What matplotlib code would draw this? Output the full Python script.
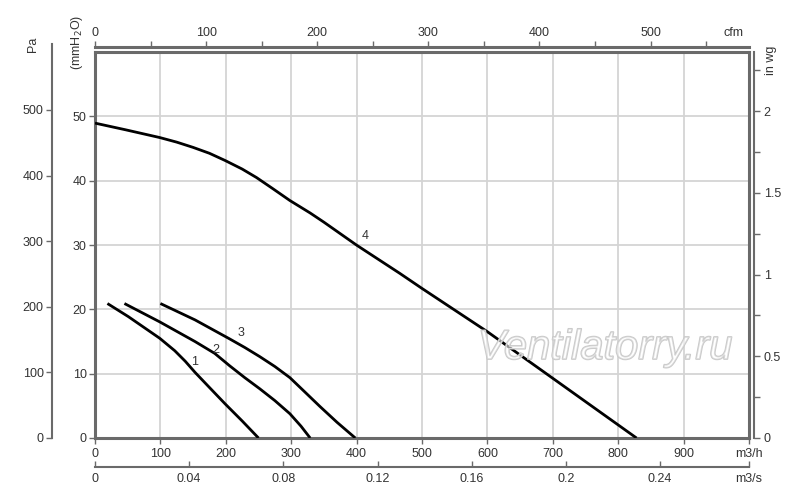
import matplotlib
matplotlib.use("Agg")
import matplotlib.pyplot as plt
import matplotlib.patheffects as pe
from matplotlib.ticker import FixedLocator, MultipleLocator

plt.rcParams['font.family'] = ['Liberation Sans', 'DejaVu Sans']

# ---- data (flow m3/h, pressure Pa) ----
c1_q = [19, 51, 99, 122, 138, 153, 175, 199, 225, 250]
c1_p = [205, 185, 152, 133, 117, 100, 77, 52, 26, 0]
c2_q = [45, 99, 153, 183, 206, 229, 252, 275, 298, 315, 329]
c2_p = [205, 177, 147, 129, 110, 92, 75, 57, 37, 18, 0]
c3_q = [100, 153, 206, 229, 252, 275, 298, 320, 344, 370, 398]
c3_p = [205, 180, 151, 138, 124, 109, 92, 71, 48, 24, 0]
c4_q = [0, 46, 99, 125, 150, 175, 199, 225, 247, 272, 298, 329, 350, 400, 466, 500, 600, 700, 828]
c4_p = [480, 470, 458, 451, 443, 434, 423, 410, 397, 380, 362, 343, 329, 294, 251, 228, 162, 91, 0]
curve_labels = ['1', '2', '3', '4']
label_pos = [(153, 116), (185, 134), (224, 160), (413, 308)]

m3h_ticks = [0, 100, 200, 300, 400, 500, 600, 700, 800, 900, 1000]
m3h_labels = ['0', '100', '200', '300', '400', '500', '600', '700', '800', '900', 'm3/h']
mmh2o_ticks = [0, 10, 20, 30, 40, 50]
pa_ticks = [0, 100, 200, 300, 400, 500]
inwg_ticks = [0, 0.5, 1, 1.5, 2]
inwg_labels = ['0', '0.5', '1', '1.5', '2']
cfm_ticks = [0, 100, 200, 300, 400, 500]
m3s_ticks = [0, 0.04, 0.08, 0.12, 0.16, 0.2, 0.24]
m3s_labels = ['0', '0.04', '0.08', '0.12', '0.16', '0.2', '0.24']

PA_PER_MM = 9.80665
PA_PER_INWG = 249.089
CFM_PER_M3H = 0.588578

TXT = '#333333'
SP = '#6a6a6a'
GRID = '#d4d4d4'
FS = 9

W, H = 800, 500
fig = plt.figure(figsize=(8, 5), dpi=100)
L, R, T, B = 95, 749, 52, 438
ax = fig.add_axes([L / W, 1 - B / H, (R - L) / W, (B - T) / H])
ymax = (B - T) / 0.656
ax.set_xlim(0, 1000)
ax.set_ylim(0, ymax)

for q, p in [(c1_q, c1_p), (c2_q, c2_p), (c3_q, c3_p), (c4_q, c4_p)]:
    ax.plot(q, p, color='black', lw=2, solid_capstyle='butt', solid_joinstyle='round', zorder=3)
for lab, (x, y) in zip(curve_labels, label_pos):
    ax.text(x, y, lab, fontsize=FS, color=TXT, ha='center', va='center', zorder=4)

# main axis: m3/h bottom, mmH2O left
ax.set_xticks(m3h_ticks)
ax.set_xticklabels(m3h_labels)
ax.set_yticks([m * PA_PER_MM for m in mmh2o_ticks])
ax.set_yticklabels([str(m) for m in mmh2o_ticks])
ax.tick_params(axis='both', direction='out', length=4, width=1, colors=SP,
               labelcolor=TXT, labelsize=FS, pad=2)
ax.tick_params(axis='x', pad=3)
ax.grid(True, color=GRID, lw=1.3, zorder=0)
ax.set_axisbelow(True)
for s in ax.spines.values():
    s.set_color(SP)
    s.set_linewidth(2.2)

# Pa axis at left
axpa = fig.add_axes([52 / W, 1 - B / H, 0.0001, (B - 44) / H])
axpa.set_ylim(0, (B - 44) / 0.656)
axpa.set_xticks([])
for k in ['top', 'bottom', 'right']:
    axpa.spines[k].set_visible(False)
axpa.spines['left'].set_color(SP)
axpa.spines['left'].set_linewidth(1.5)
axpa.patch.set_visible(False)
axpa.set_yticks(pa_ticks)
axpa.set_yticklabels([str(v) for v in pa_ticks])
axpa.tick_params(axis='y', direction='out', length=4, width=1, colors=SP,
                 labelcolor=TXT, labelsize=FS, pad=2)

# in wg axis at right
sec_r = ax.secondary_yaxis((754 - L) / (R - L),
                           functions=(lambda p: p / PA_PER_INWG, lambda w: w * PA_PER_INWG))
sec_r.set_yticks(inwg_ticks)
sec_r.set_yticklabels(inwg_labels)
sec_r.yaxis.set_minor_locator(FixedLocator([0.25, 0.75, 1.25, 1.75, 2.25]))
sec_r.tick_params(axis='y', which='both', direction='out', length=4, width=1, colors=SP,
                  labelcolor=TXT, labelsize=FS, pad=3)
sec_r.spines['right'].set_color(SP)
sec_r.spines['right'].set_linewidth(1.5)

# cfm axis at top
sec_t = ax.secondary_xaxis(1 + 5 / (B - T),
                           functions=(lambda q: q * CFM_PER_M3H, lambda c: c / CFM_PER_M3H))
sec_t.set_xticks(cfm_ticks)
sec_t.set_xticklabels([str(v) for v in cfm_ticks])
sec_t.xaxis.set_minor_locator(MultipleLocator(50))
sec_t.tick_params(axis='x', which='both', direction='out', length=4, width=1, colors=SP,
                  labelcolor=TXT, labelsize=FS, pad=2)
sec_t.spines['top'].set_color(SP)
sec_t.spines['top'].set_linewidth(2.2)

# m3/s axis at bottom
sec_b = ax.secondary_xaxis(-(467 - B) / (B - T),
                           functions=(lambda q: q / 3600.0, lambda s: s * 3600.0))
sec_b.set_xticks(m3s_ticks + [1000 / 3600.0])
sec_b.set_xticklabels(m3s_labels + ['m3/s'])
sec_b.tick_params(axis='x', direction='in', length=4, width=1, colors=SP,
                  labelcolor=TXT, labelsize=FS, pad=4)
sec_b.spines['bottom'].set_color(SP)
sec_b.spines['bottom'].set_linewidth(1.5)

# axis titles
fig.text(733 / W, 1 - 33 / H, 'cfm', fontsize=FS, color=TXT, ha='center', va='center')
fig.text(33 / W, 1 - 44 / H, 'Pa', fontsize=FS, color=TXT, ha='center', va='center', rotation=90)
fig.text(77 / W, 1 - 42 / H, '(mmH$_2$O)', fontsize=FS, color=TXT, ha='center', va='center',
         rotation=90)
fig.text(771 / W, 1 - 60 / H, 'in wg', fontsize=FS, color=TXT, ha='center', va='center',
         rotation=90)

# watermark
fig.text(605 / W, 1 - 348 / H, 'Ventilatorry.ru', fontsize=30, fontstyle='italic',
         color=(1, 1, 1, 0.35), ha='center', va='center', zorder=10,
         path_effects=[pe.Stroke(linewidth=1.2, foreground='#c8c8c8'), pe.Normal()])

fig.savefig('out.png', dpi=100)
